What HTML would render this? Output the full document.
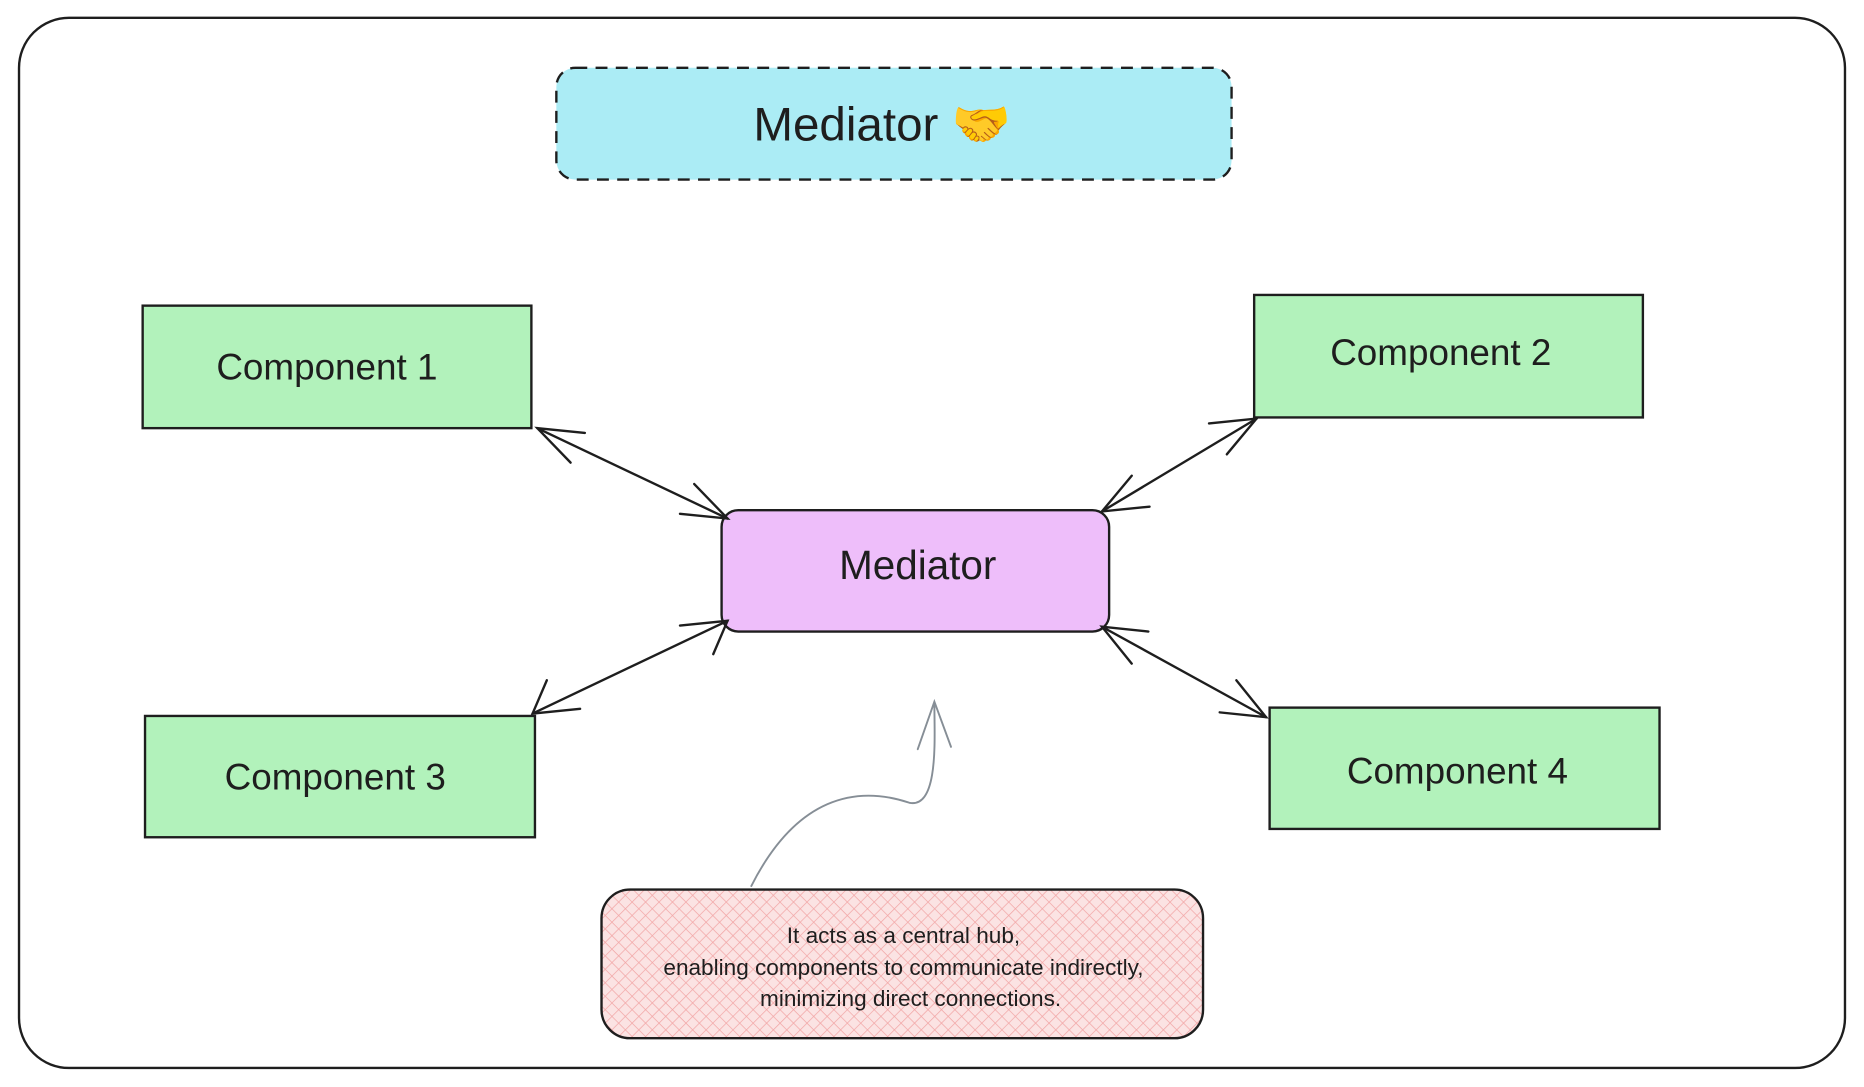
<!DOCTYPE html>
<html><head><meta charset="utf-8"><style>
html,body{margin:0;padding:0;background:#fff;}
svg{display:block;}
text{font-family:"Liberation Sans","Noto Sans CJK JP",sans-serif;fill:#1e1e1e;}
</style></head><body>
<svg width="1864" height="1087" viewBox="0 0 1568 914" preserveAspectRatio="none" xmlns="http://www.w3.org/2000/svg">
<defs>
<pattern id="hatch" width="8" height="8" patternUnits="userSpaceOnUse" patternTransform="rotate(45)">
<rect width="8" height="8" fill="#fbe3e3"/>
<line x1="0" y1="0" x2="0" y2="8" stroke="#f2a5a5" stroke-width="1.2"/>
<line x1="0" y1="0" x2="8" y2="0" stroke="#f2a5a5" stroke-width="1.2"/>
</pattern>
</defs>
<rect x="16" y="15" width="1536" height="883" rx="42" fill="#fff" stroke="#1e1e1e" stroke-width="2"/>
<rect x="468" y="57" width="568" height="94" rx="16" fill="#abecf5" stroke="#1e1e1e" stroke-width="2" stroke-dasharray="10 7"/>
<text x="742" y="118" font-size="40" text-anchor="middle">Mediator 🤝</text>

<g stroke="#1e1e1e" stroke-width="2">
<rect x="120" y="257" width="327" height="103" fill="#b2f2bb"/>
<rect x="1055" y="248" width="327" height="103" fill="#b2f2bb"/>
<rect x="122" y="602" width="328" height="102" fill="#b2f2bb"/>
<rect x="1068" y="595" width="328" height="102" fill="#b2f2bb"/>
<rect x="607" y="429" width="326" height="102" rx="14" fill="#eebefa"/>
</g>
<g font-size="31" text-anchor="middle">
<text x="275" y="319">Component 1</text>
<text x="1212" y="307">Component 2</text>
<text x="282" y="664">Component 3</text>
<text x="1226" y="659">Component 4</text>
<text x="772" y="487" font-size="34">Mediator</text>
</g>

<g stroke="#1e1e1e" stroke-width="2" fill="none" stroke-linecap="round">
<line x1="452" y1="360" x2="612" y2="436"/>
<polyline points="492,364 452,360 480,389"/>
<polyline points="572,432 612,436 584,407"/>
<line x1="1057" y1="352" x2="927" y2="430"/>
<polyline points="1017,356 1057,352 1032,382"/>
<polyline points="967,426 927,430 952,400"/>
<line x1="448" y1="600" x2="612" y2="522"/>
<polyline points="460,572 448,600 488,596"/>
<polyline points="600,550 612,522 572,526"/>
<line x1="927" y1="527" x2="1065" y2="603"/>
<polyline points="966,531 927,527 952,558"/>
<polyline points="1040,572 1065,603 1026,599"/>
</g>

<g stroke="#868e96" stroke-width="1.6" fill="none" stroke-linecap="round">
<path d="M632 745 C 670 670, 720 660, 765 675 C 790 680, 786 620, 786 592"/>
<polyline points="772,630 786,590 800,628"/>
</g>

<rect x="506" y="748" width="506" height="125" rx="24" fill="url(#hatch)" stroke="#1e1e1e" stroke-width="2"/>
<g font-size="19" text-anchor="middle">
<text x="760" y="793">It acts as a central hub,</text>
<text x="760" y="820">enabling components to communicate indirectly,</text>
<text x="766" y="846">minimizing direct connections.</text>
</g>
</svg>
</body></html>
